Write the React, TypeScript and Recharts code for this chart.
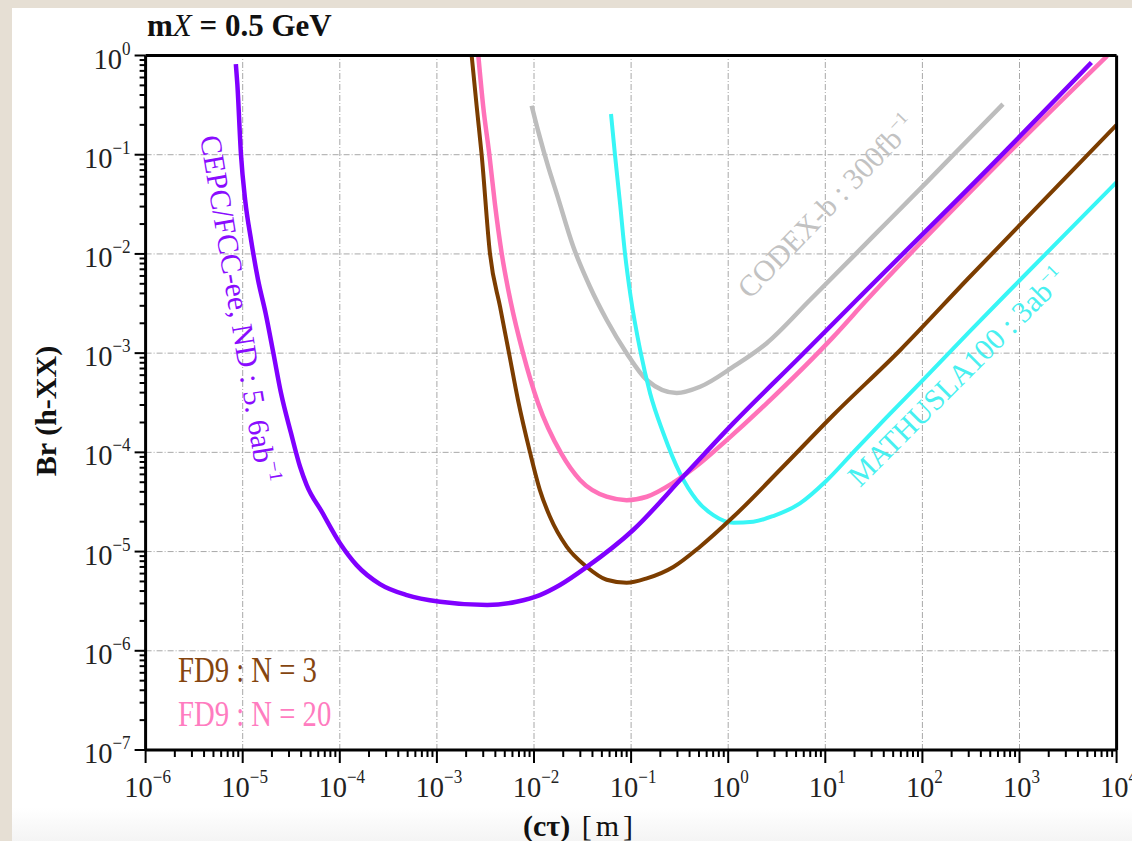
import * as React from "react";
import { Line, LineChart, ReferenceLine, XAxis, YAxis } from "recharts";

const W = 1132;
const H = 841;
const SERIF = "'Liberation Serif', 'Times New Roman', serif";

/* ---------- axes ---------- */
const xDecades = [1e-6, 1e-5, 1e-4, 1e-3, 1e-2, 1e-1, 1e0, 1e1, 1e2, 1e3, 1e4];
const yDecades = [1e-7, 1e-6, 1e-5, 1e-4, 1e-3, 1e-2, 1e-1, 1e0];
const minorSteps = [2, 3, 4, 5, 6, 7, 8, 9];

/* ---------- curves: [cτ (m), Br(h→XX)] ---------- */
const cepcPts: [number, number][] = [
    [8.5e-6, 0.82], [8.8e-6, 0.52], [9.6e-6, 0.1], [1.06e-5, 0.035], [1.22e-5, 0.0138],
    [1.44e-5, 5.46e-3], [1.72e-5, 2.54e-3], [2.07e-5, 1.0e-3], [2.48e-5, 3.96e-4], [3.14e-5, 1.57e-4],
    [3.89e-5, 7.2e-5], [4.56e-5, 4.68e-5], [6.56e-5, 2.5e-5], [1.0e-4, 1.22e-5], [1.49e-4, 7.3e-6],
    [2.59e-4, 4.7e-6], [4.9e-4, 3.64e-6], [1.08e-3, 3.12e-6], [3.3e-3, 2.89e-6], [6.6e-3, 3.12e-6],
    [1.15e-2, 3.64e-6], [1.85e-2, 4.6e-6], [3.5e-2, 7.0e-6], [0.105, 1.65e-5], [0.345, 5.7e-5],
    [1.13, 1.97e-4], [5.5, 9.2e-4], [21, 3.43e-3], [630, 0.0955], [5500, 0.85],
];
const fd9n3Pts: [number, number][] = [
    [2.28e-3, 1.0], [2.57e-3, 0.305], [2.89e-3, 0.1], [3.52e-3, 0.0101], [4.47e-3, 2.94e-3],
    [5.53e-3, 1.0e-3], [6.84e-3, 3.37e-4], [9.1e-3, 1.0e-4], [1.15e-2, 4.17e-5], [1.46e-2, 2.24e-5],
    [2.17e-2, 1.12e-5], [3.5e-2, 7.0e-6], [5.6e-2, 5.2e-6], [9.0e-2, 4.85e-6], [0.145, 5.37e-6],
    [0.272, 7.0e-6], [0.513, 1.12e-5], [1.13, 2.24e-5], [3.69, 7.2e-5], [12.1, 2.38e-4],
    [58.9, 1.07e-3], [286, 5.46e-3], [1e4, 0.2],
];
const fd9n20Pts: [number, number][] = [
    [2.67e-3, 1.0], [3.0e-3, 0.305], [3.47e-3, 0.1], [3.96e-3, 0.0318], [4.65e-3, 0.0101],
    [5.79e-3, 3.2e-3], [7.71e-3, 1.0e-3], [1.1e-2, 3.14e-4], [1.9e-2, 9.8e-5], [2.98e-2, 5.26e-5],
    [5.6e-2, 3.57e-5], [9.0e-2, 3.3e-5], [0.145, 3.57e-5], [0.272, 4.94e-5], [0.513, 7.75e-5],
    [0.966, 1.33e-4], [2.49, 3.12e-4], [12.1, 1.46e-3], [26.7, 3.43e-3], [630, 0.085], [8000, 0.99],
];
const codexPts: [number, number][] = [
    [9.46e-3, 0.312], [1.12e-2, 0.164], [1.4e-2, 0.0757], [1.71e-2, 0.0408], [2.54e-2, 0.0118],
    [3.77e-2, 4.67e-3], [5.61e-2, 2.16e-3], [9.0e-2, 1.0e-3], [0.145, 5.36e-4], [0.295, 3.96e-4],
    [0.513, 4.58e-4], [1.13, 7.3e-4], [2.49, 1.26e-3], [6.95, 3.43e-3], [31.2, 0.0151],
    [111, 0.053], [244, 0.117], [676, 0.324],
];
const mathuslaPts: [number, number][] = [
    [0.0621, 0.257], [0.0682, 0.1], [0.0769, 0.0324], [0.0865, 0.0101], [0.099, 3.7e-3],
    [0.124, 1.07e-3], [0.157, 3.93e-4], [0.215, 1.56e-4], [0.319, 6.14e-5], [0.474, 3.3e-5],
    [0.703, 2.33e-5], [1.13, 1.95e-5], [1.81, 2.0e-5], [2.91, 2.28e-5], [5.48, 3.06e-5],
    [10.2, 5.14e-5], [19.4, 1.0e-4], [42.2, 2.22e-4], [94.4, 4.99e-4], [309, 1.67e-3],
    [1012, 5.46e-3], [1e4, 0.053],
];

const toRows = (pts: [number, number][]) => pts.map(([x, y]) => ({ x, y }));

const series = [
    { key: "codex", color: "#bdbdbd", width: 4.5, data: toRows(codexPts) },
    { key: "mathusla", color: "#38f6f6", width: 4, data: toRows(mathuslaPts) },
    { key: "n3", color: "#7c3d00", width: 4, data: toRows(fd9n3Pts) },
    { key: "n20", color: "#ff72b9", width: 4.5, data: toRows(fd9n20Pts) },
    { key: "cepc", color: "#8000ff", width: 4.5, data: toRows(cepcPts) },
];

const withMinor = (dec: number[]) =>
    dec.flatMap((d, i) => (i === dec.length - 1 ? [d] : [d, ...minorSteps.map((m) => d * m)]));
const xTicks = withMinor(xDecades);
const yTicks = withMinor(yDecades);

const expText = (e: number) => (e < 0 ? "\u2212" + -e : String(e));
const decadeOf = (v: number) => {
    const p = Math.log10(v);
    const e = Math.round(p);
    return { e, major: Math.abs(p - e) < 1e-6 };
};

function XTick({ x, y, payload }: any) {
    const { e, major } = decadeOf(payload.value);
    return (
        <g>
            <line x1={x} x2={x} y1={y} y2={y + (major ? 13 : 7)} stroke="#000" strokeWidth={2} />
            {major && (
                <text
                    transform={`translate(${x + 2},${y + 47}) scale(0.95,1)`}
                    textAnchor="middle"
                    fontFamily={SERIF}
                    fontSize={30}
                    fill="#222"
                >
                    10<tspan dy={-14} fontSize={18}>{expText(e)}</tspan>
                </text>
            )}
        </g>
    );
}

function YTick({ x, y, payload }: any) {
    const { e, major } = decadeOf(payload.value);
    return (
        <g>
            <line x1={x} x2={x - (major ? 11 : 6)} y1={y} y2={y} stroke="#000" strokeWidth={2} />
            {major && (
                <text
                    transform={`translate(${x - 15},${y + 13}) scale(0.95,1)`}
                    textAnchor="end"
                    fontFamily={SERIF}
                    fontSize={30}
                    fill="#222"
                >
                    10<tspan dy={-14} fontSize={18}>{expText(e)}</tspan>
                </text>
            )}
        </g>
    );
}

const gridStyle = { stroke: "#a8a8a8", strokeWidth: 1, strokeDasharray: "6 2 1 2" };

export default function App() {
    return (
        <div style={{ position: "fixed", left: 0, top: 0, width: W, height: H, background: "#e6dfd4", overflow: "hidden" }}>
            <div
                style={{
                    position: "absolute",
                    left: 12,
                    top: 8,
                    right: 0,
                    bottom: 0,
                    background: "linear-gradient(to bottom, #ffffff 0px, #ffffff 800px, #f4f4f4 833px)",
                }}
            />
            <div style={{ position: "absolute", left: 0, top: 0 }}>
                <LineChart width={W} height={H} margin={{ top: 55.5, right: 15.4, left: 85.6, bottom: 51 }}>
                    {xDecades.slice(1, -1).map((v) => (
                        <ReferenceLine key={"gx" + v} x={v} {...gridStyle} />
                    ))}
                    {yDecades.slice(1, -1).map((v) => (
                        <ReferenceLine key={"gy" + v} y={v} {...gridStyle} />
                    ))}
                    <XAxis
                        dataKey="x"
                        type="number"
                        scale="log"
                        domain={[1e-6, 1e4]}
                        allowDataOverflow
                        ticks={xTicks}
                        interval={0}
                        tick={<XTick />}
                        tickLine={false}
                        tickSize={0}
                        tickMargin={0}
                        height={40}
                        axisLine={{ stroke: "#000", strokeWidth: 3 }}
                    />
                    <YAxis
                        dataKey="y"
                        type="number"
                        scale="log"
                        domain={[1e-7, 1]}
                        allowDataOverflow
                        ticks={yTicks}
                        interval={0}
                        tick={<YTick />}
                        tickLine={false}
                        tickSize={0}
                        tickMargin={0}
                        width={60}
                        axisLine={{ stroke: "#000", strokeWidth: 3 }}
                    />
                    {series.map((s) => (
                        <Line
                            key={s.key}
                            data={s.data}
                            dataKey="y"
                            type="monotone"
                            stroke={s.color}
                            strokeWidth={s.width}
                            dot={false}
                            activeDot={false}
                            isAnimationActive={false}
                        />
                    ))}
                    <ReferenceLine y={1} stroke="#000" strokeWidth={3} />
                    <ReferenceLine x={1e4} stroke="#000" strokeWidth={3} />
                </LineChart>
            </div>
            <svg width={W} height={H} style={{ position: "absolute", left: 0, top: 0, pointerEvents: "none" }}>
                {/* title */}
                <text x={147} y={36} fontFamily={SERIF} fontSize={31} fontWeight="bold" fill="#111">
                    m<tspan fontStyle="italic" fontWeight="normal">X</tspan> = 0.5 GeV
                </text>
                {/* axis titles */}
                <text
                    transform="translate(56,411) rotate(-90)"
                    textAnchor="middle"
                    fontFamily={SERIF}
                    fontSize={30}
                    fontWeight="bold"
                    fill="#111"
                >
                    Br (h-XX)
                </text>
                <text x={580} y={836} textAnchor="middle" fontFamily={SERIF} fontSize={30} fill="#111">
                    <tspan fontWeight="bold">(cτ)</tspan>
                    <tspan letterSpacing={4}> [m]</tspan>
                </text>
                {/* legend */}
                <text transform="translate(178,682) scale(0.82,1)" fontFamily={SERIF} fontSize={35} fill="#85450f">
                    FD9 : N = 3
                </text>
                <text transform="translate(178,726) scale(0.82,1)" fontFamily={SERIF} fontSize={35} fill="#ff7cc0">
                    FD9 : N = 20
                </text>
                {/* curve annotations */}
                <text transform="translate(200,137) rotate(80.5)" fontFamily={SERIF} fontSize={30} fill="#8a0cff">
                    CEPC/FCC-ee, ND : 5. 6ab<tspan dy={-13} fontSize={19}>{"\u22121"}</tspan>
                </text>
                <text transform="translate(750,300) rotate(-46)" fontFamily={SERIF} fontSize={30} fill="#c2c2c2">
                    CODEX-b : 300fb<tspan dy={-12} fontSize={18}>{"\u22121"}</tspan>
                </text>
                <text transform="translate(860,488) rotate(-45)" fontFamily={SERIF} fontSize={30} fill="#48f0f0">
                    MATHUSLA100 : 3ab<tspan dy={-12} fontSize={18}>{"\u22121"}</tspan>
                </text>
            </svg>
        </div>
    );
}
